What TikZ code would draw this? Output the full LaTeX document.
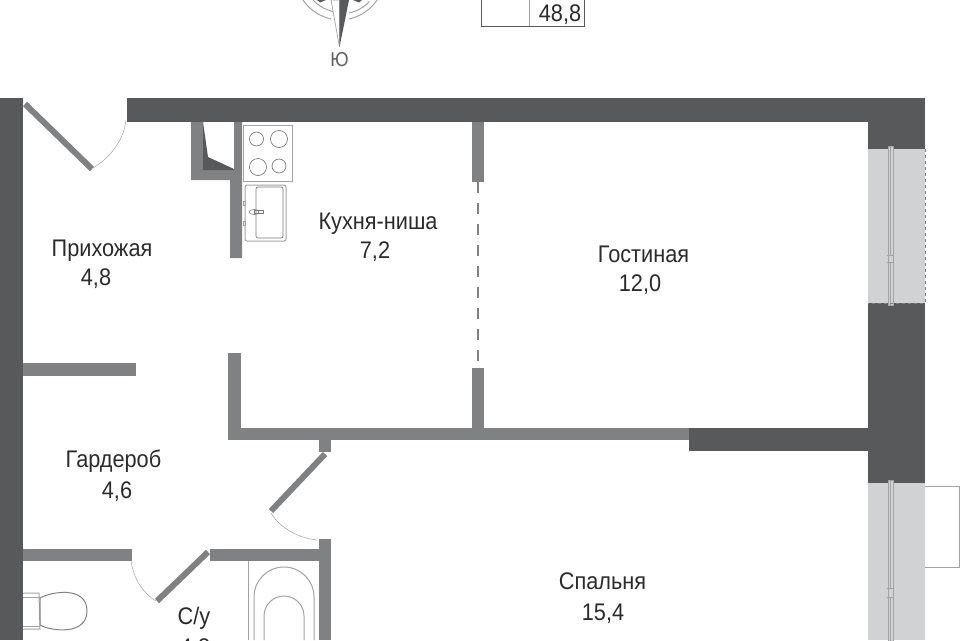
\documentclass[tikz,border=0pt]{standalone}
\usepackage{fontspec}
\setmainfont[FakeStretch=0.905]{Liberation Sans}
\definecolor{walldark}{HTML}{58595B}
\definecolor{wallgrey}{HTML}{808183}
\definecolor{glassgrey}{HTML}{D1D2D4}
\definecolor{linegrey}{HTML}{A2A3A5}
\definecolor{textgrey}{HTML}{2B2B2D}
\tikzset{
	roomlabel/.style={anchor=base, text=textgrey, font=\fontsize{24}{24}\selectfont, inner sep=0},
	darkwall/.style={fill=walldark},
	greywall/.style={fill=wallgrey},
	doorleaf/.style={draw=wallgrey, line width=6pt},
	doorswing/.style={draw=linegrey, line width=0.5pt},
	fixture/.style={draw=linegrey, line width=1pt},
}
\begin{document}
\begin{tikzpicture}[x=1pt, y=-1pt]
	\useasboundingbox (0,0) rectangle (960,640);
	\clip (0,0) rectangle (960,640);
	% compass
	\draw[fixture] (303,0) arc[start angle=146, end angle=102, radius=45];
	\draw[fixture] (313,0) arc[start angle=137, end angle=102, radius=39];
	\draw[fixture] (349,19) arc[start angle=78, end angle=34, radius=45];
	\draw[fixture] (349,13) arc[start angle=78, end angle=43, radius=39];
	\fill[walldark] (317,0) -- (326,0) -- (320,2.5) -- cycle;
	\fill[walldark] (353,0) -- (362,0) -- (359,2.5) -- cycle;
	\filldraw[draw=linegrey, fill=white, line width=0.7pt] (331,0) -- (339.5,47) -- (339.5,0) -- cycle;
	\fill[walldark] (339.5,0) -- (339.5,47) -- (349,0) -- cycle;
	\node[anchor=base, text=textgrey!75, font=\fontsize{20}{20}\selectfont, inner sep=0] (south) at (339.5,66.5) {Ю};
	% table
	\draw[draw=walldark, line width=1pt] (481,-2) -- (481,26) -- (584,26) -- (584,-2);
	\draw[draw=linegrey, line width=1pt] (529,-2) -- (529,26);
	\node[roomlabel] (total) at (560,21) {48,8};
	% dark walls
	\fill[darkwall] (0,98) rectangle (23,640);
	\fill[darkwall] (127,98) rectangle (925,122);
	\fill[darkwall] (868,122) rectangle (925,149);
	\fill[darkwall] (868,303) rectangle (925,483);
	\fill[darkwall] (689,428) rectangle (868,451);
	\fill[darkwall] (868,638) rectangle (886,640);
	% windows
	\foreach \wintop/\winbot/\gaptop/\gapbot in {149/303/255/262, 483/640/588/597} {
		\fill[glassgrey] (868,\wintop) rectangle (925,\winbot);
		\draw[fixture, fill=glassgrey] (888,\wintop-3) rectangle (893,\winbot+2);
		\draw[draw=linegrey, line width=0.6pt] (890.5,\wintop-3) -- (890.5,\gaptop) (890.5,\gapbot) -- (890.5,\winbot+2);
		\draw[draw=linegrey, line width=0.6pt] (887,\gaptop) -- (894,\gaptop) (887,\gapbot) -- (894,\gapbot);
	}
	\draw[draw=wallgrey, dashed, line width=1pt] (925,149) -- (925,303) -- (868,303);
	% balcony
	\draw[fixture] (925,486) -- (959,486) -- (959,567) -- (925,567);
	% grey walls
	\fill[greywall] (191,122) -- (203,122) -- (203,170) -- (234,170) -- (234,122) -- (242,122) -- (242,258) -- (230,258) -- (230,180) -- (191,180) -- cycle;
	\fill[darkwall] (203,122) -- (208,157) -- (234,169) -- (234,170) -- (203,170) -- cycle;
	\fill[greywall] (472,122) rectangle (484,182);
	\fill[greywall] (472,368) rectangle (484,430);
	\fill[greywall] (228,428) rectangle (689,440);
	\fill[greywall] (228,353) rectangle (241,440);
	\fill[greywall] (319,440) rectangle (331,452);
	\fill[greywall] (23,363) rectangle (136,376);
	\fill[greywall] (23,549) rectangle (132,561);
	\fill[greywall] (210,549) rectangle (331,561);
	\fill[greywall] (319,539) rectangle (331,640);
	% sliding partition
	\draw[draw=wallgrey, line width=2pt, dash pattern=on 11pt off 10pt] (478,182) -- (478,368);
	% doors
	\draw[doorleaf] (25,104) -- (92,169);
	\draw[doorswing] (93,168) .. controls (110,158) and (124,140) .. (126,120);
	\draw[doorleaf] (325,454) -- (271,511);
	\draw[doorswing] (271,513) .. controls (280,528) and (298,538) .. (317,540);
	\draw[doorleaf] (208,552) -- (157,601);
	\draw[doorswing] (131,561) .. controls (134,580) and (143,593) .. (156,601);
	% stove
	\draw[fixture] (243,125) rectangle (292,181);
	\foreach \cx/\cy/\cr in {256.5/139/7, 279/139/8.5, 258/167/8.5, 279/166/7} {
		\draw[draw=walldark!80, line width=0.7pt] (\cx,\cy) circle (\cr);
	}
	% sink
	\draw[fixture, rounded corners=2pt] (245,185) rectangle (286,241);
	\draw[draw=walldark!80, line width=0.7pt, rounded corners=2pt] (256,187) rectangle (283,238);
	\draw[draw=walldark!80, line width=0.6pt] (254,212) ellipse (5 and 2.5);
	\draw[draw=walldark!80, line width=0.6pt] (254,210.5) rectangle (263,213.5);
	\draw[fixture] (243.5,201) rectangle (245,205);
	\draw[fixture] (243.5,221) rectangle (245,225);
	% bath
	\draw[fixture] (248,561) -- (248,640);
	\draw[fixture] (254,640) -- (254,597) arc[start angle=180, end angle=360, radius=30] -- (314,640);
	\draw[fixture] (264,640) -- (264,616) arc[start angle=180, end angle=360, radius=20] -- (304,640);
	% toilet
	\draw[fixture] (23,593) -- (39,593) -- (40,629) -- (23,629);
	\draw[fixture] (23,597) -- (40,597);
	\draw[fixture] (23,626) -- (40,626);
	\draw[draw=linegrey!80!black, line width=1pt] (40,598) .. controls (50,592) and (87,585) .. (87,611) .. controls (87,636) and (50,631) .. (40,625) -- cycle;
	% rooms
	\node[roomlabel] (hall) at (102,256) {Прихожая};
	\node[roomlabel] (hallarea) at (96,285) {4,8};
	\node[roomlabel] (kitchen) at (378,229) {Кухня-ниша};
	\node[roomlabel] (kitchenarea) at (375,258) {7,2};
	\node[roomlabel] (living) at (643.5,262) {Гостиная};
	\node[roomlabel] (livingarea) at (640,291) {12,0};
	\node[roomlabel] (wardrobe) at (113.5,467) {Гардероб};
	\node[roomlabel] (wardrobearea) at (117,498) {4,6};
	\node[roomlabel] (bedroom) at (602.5,589) {Спальня};
	\node[roomlabel] (bedroomarea) at (603,620) {15,4};
	\node[roomlabel] (bath) at (194,624) {С/у};
	\node[roomlabel] (batharea) at (195,655) {4,8};
\end{tikzpicture}
\end{document}
